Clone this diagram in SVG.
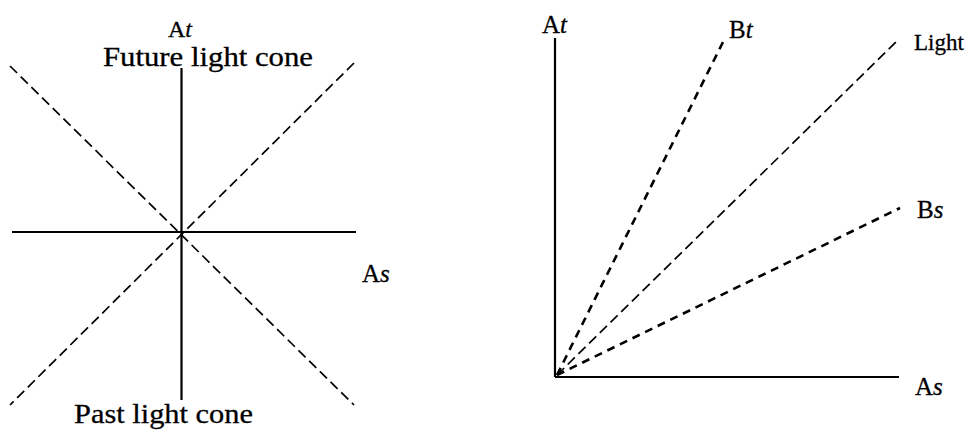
<svg xmlns="http://www.w3.org/2000/svg" width="970" height="430" viewBox="0 0 970 430">
<style>
.axis{stroke:#000;stroke-width:2.2;fill:none}
.thin{stroke:#000;stroke-width:1.7;fill:none;stroke-dasharray:10 5}
.thick{stroke:#000;stroke-width:2.6;fill:none;stroke-dasharray:8 6}
text{font-family:"Liberation Serif","Times New Roman",serif;fill:#000;stroke:#000;stroke-width:0.3}
.i{font-style:italic}
</style>
<rect width="970" height="430" fill="#fff"/>
<g id="connectors">
<line class="axis" x1="181.5" y1="68" x2="181.5" y2="400"/>
<line class="axis" x1="12" y1="232" x2="356" y2="232"/>
<line class="thin" x1="10" y1="66" x2="354" y2="405"/>
<line class="thin" x1="354" y1="63" x2="10" y2="405"/>
<line class="axis" x1="555" y1="38" x2="555" y2="377"/>
<line class="axis" x1="555" y1="377" x2="899" y2="377"/>
<line class="thick" x1="557" y1="375" x2="725" y2="38"/>
<line class="thin" x1="557" y1="375" x2="899" y2="39"/>
<line class="thick" x1="557" y1="375" x2="900" y2="208"/>
</g>
<g id="left-labels">
<text x="168" y="37" font-size="24">A<tspan class="i">t</tspan></text>
<text x="103" y="66" font-size="27" textLength="210" lengthAdjust="spacingAndGlyphs">Future light cone</text>
<text x="74" y="423" font-size="27" textLength="179" lengthAdjust="spacingAndGlyphs">Past light cone</text>
<text x="362" y="282" font-size="25">A<tspan class="i">s</tspan></text>
</g>
<g id="right-labels">
<text x="542" y="33" font-size="25">A<tspan class="i">t</tspan></text>
<text x="729" y="38" font-size="25">B<tspan class="i">t</tspan></text>
<text x="914" y="50" font-size="23">Light</text>
<text x="917" y="218" font-size="25">B<tspan class="i">s</tspan></text>
<text x="915" y="395" font-size="25">A<tspan class="i">s</tspan></text>
</g>
</svg>
